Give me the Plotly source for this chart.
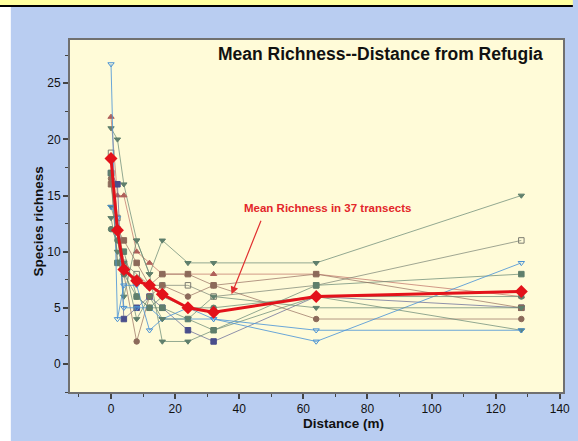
import plotly.graph_objects as go

# ---------------- data ----------------
distance = [0, 2, 4, 8, 12, 16, 24, 32, 64, 128]

mean_richness = [18.3, 11.9, 8.4, 7.4, 7.0, 6.2, 5.0, 4.6, 6.0, 6.45]

transect_a = [21, 20, 16, 11, 8, 11, 9, 9, 9, 15]
transect_b = [22, 15, 15, 10, 9, 8, 8, 8, 8, 6]
transect_c = [18.8, 13, 9, 8, 7, 7, 7, 6, 7, 11]
transect_d = [17, 16, 4, 5, 6, 5, 3, 2, 6, 5]
transect_e = [16.5, 9, 8, 2, 6, 7, 6, 7, 4, 4]
transect_f = [14, 12, 6, 11, 8, 2, 2, 3, 6, 3]
transect_g = [17, 9, 10, 6, 5, 5, 4, 3, 7, 8]
transect_h = [26.7, 4, 7, 7, 3, 4, 4, 4, 3, 3]
transect_i = [14, 13, 5, 5, 5, 4, 5, 4, 2, 9]
transect_j = [16, 12, 11, 9, 7, 8, 8, 7, 8, 5]
transect_k = [13, 10, 9, 4, 6, 4, 4, 6, 5, 5]
transect_l = [12, 11, 8, 6, 5, 6, 5, 5, 6, 6]

x_ticks = [0, 20, 40, 60, 80, 100, 120, 140]
y_ticks = [0, 5, 10, 15, 20, 25]

title_text = "Mean Richness--Distance from Refugia"
x_title = "Distance (m)"
y_title = "Species richness"
note_text = "Mean Richness in 37 transects"

# ---------------- styles ----------------
GREEN = "#5f7f6c"
GREEN_L = "rgba(110,140,120,0.75)"
BROWN = "#8c6a5a"
BROWN_L = "rgba(150,110,95,0.7)"
REDBR = "#b0605a"
REDBR_L = "rgba(190,110,100,0.7)"
BLUE = "#4a92d4"
BLUE_L = "rgba(80,150,215,0.85)"
NAVY = "#4a4e8c"
NAVY_L = "rgba(95,100,150,0.7)"
GRAY = "#7c7c70"
GRAY_L = "rgba(120,130,115,0.7)"

series = [
    (transect_a, "triangle-down", GREEN, GREEN_L),
    (transect_b, "triangle-up", REDBR, REDBR_L),
    (transect_c, "square-open", GRAY, GRAY_L),
    (transect_d, "square", NAVY, NAVY_L),
    (transect_e, "circle", BROWN, BROWN_L),
    (transect_f, "triangle-down", GREEN, GREEN_L),
    (transect_g, "square", GREEN, GREEN_L),
    (transect_h, "triangle-down-open", BLUE, BLUE_L),
    (transect_i, "triangle-down-open", BLUE, BLUE_L),
    (transect_j, "square", BROWN, BROWN_L),
    (transect_k, "triangle-down", GREEN, GREEN_L),
    (transect_l, "circle", GREEN, GREEN_L),
]

FONT = "Arial, 'Liberation Sans', sans-serif"

fig = go.Figure()

for vals, sym, mcol, lcol in series:
    fig.add_trace(go.Scatter(
        x=distance, y=vals, mode="lines+markers",
        line=dict(color=lcol, width=1),
        marker=dict(symbol=sym, size=5.5, color=mcol,
                    line=dict(color=mcol, width=1)),
        showlegend=False, hoverinfo="skip",
    ))

fig.add_trace(go.Scatter(
    x=distance, y=mean_richness, mode="lines+markers",
    line=dict(color="#e3121a", width=3),
    marker=dict(symbol="diamond", size=10, color="#e3121a"),
    showlegend=False,
))

# ---------------- layout ----------------
L, T, R, B = 70, 40, 570, 392
W, H = 578, 441
pw, ph = R - L, B - T


def px(x):
    return (x - L) / pw


def py(y):
    return (B - y) / ph


shapes = [
    # white strip at left
    dict(type="rect", xref="paper", yref="paper", x0=px(-2), x1=px(10),
         y0=py(H + 2), y1=py(6), fillcolor="white", line=dict(width=0), layer="above"),
    # yellow strip at top
    dict(type="rect", xref="paper", yref="paper", x0=px(-2), x1=px(W + 2),
         y0=py(5), y1=py(-2), fillcolor="#ffff9e", line=dict(width=0), layer="above"),
    # black rule
    dict(type="rect", xref="paper", yref="paper", x0=px(-2), x1=px(W + 2),
         y0=py(7), y1=py(5), fillcolor="black", line=dict(width=0), layer="above"),
]

annotations = [
    dict(text="<b>" + title_text + "</b>", xref="paper", yref="paper",
         x=px(552), y=py(54), xanchor="right", yanchor="middle", showarrow=False,
         font=dict(family=FONT, size=17.5, color="#111111")),
    dict(text="<b>" + y_title + "</b>", xref="paper", yref="paper",
         x=px(38), y=py(221), xanchor="center", yanchor="middle", showarrow=False,
         textangle=-90, font=dict(family=FONT, size=13.5, color="#111111")),
    dict(text="<b>" + x_title + "</b>", xref="paper", yref="paper",
         x=px(347), y=py(423), xanchor="center", yanchor="middle", showarrow=False,
         font=dict(family=FONT, size=13.5, color="#111111")),
    # label
    dict(text="<b>" + note_text + "</b>", xref="paper", yref="paper",
         x=px(331), y=py(208), xanchor="center", yanchor="middle", showarrow=False,
         font=dict(family=FONT, size=11.5, color="#e3262a")),
    # arrow
    dict(text="", x=37.6, y=6.2, xref="x", yref="y",
         ax=30, ay=-75, axref="pixel", ayref="pixel",
         showarrow=True, arrowhead=2, arrowsize=1.3, arrowwidth=1.2,
         arrowcolor="#e03030", font=dict(size=1), standoff=0),
]

fig.update_layout(
    width=W, height=H,
    margin=dict(l=L, r=W - R, t=T, b=H - B, pad=0),
    paper_bgcolor="#b9cdf1",
    plot_bgcolor="#fffbd8",
    shapes=shapes,
    annotations=annotations,
    showlegend=False,
    font=dict(family=FONT, size=12, color="#111111"),
)

fig.update_xaxes(
    range=[-12.8, 141], tickvals=x_ticks, ticktext=[str(v) for v in x_ticks],
    showgrid=False, zeroline=False,
    showline=True, linecolor="#707070", linewidth=2, mirror=True,
    ticks="outside", ticklen=5, tickwidth=1.5, tickcolor="#444444",
    minor=dict(dtick=10, tick0=0, ticks="outside", ticklen=3, tickcolor="#444444", tickwidth=1),
    tickfont=dict(family=FONT, size=12, color="#111111"),
)
fig.update_yaxes(
    range=[-2.5, 28.85], tickvals=y_ticks, ticktext=[str(v) for v in y_ticks],
    showgrid=False, zeroline=False,
    showline=True, linecolor="#707070", linewidth=2, mirror=True,
    ticks="outside", ticklen=5, tickwidth=1.5, tickcolor="#444444",
    minor=dict(dtick=2.5, tick0=0, ticks="outside", ticklen=3, tickcolor="#444444", tickwidth=1),
    tickfont=dict(family=FONT, size=12, color="#111111"),
)

fig.write_html(
    "out.html",
    config={"displayModeBar": False},
    post_script="document.body.style.margin='0';document.body.style.padding='0';",
)
